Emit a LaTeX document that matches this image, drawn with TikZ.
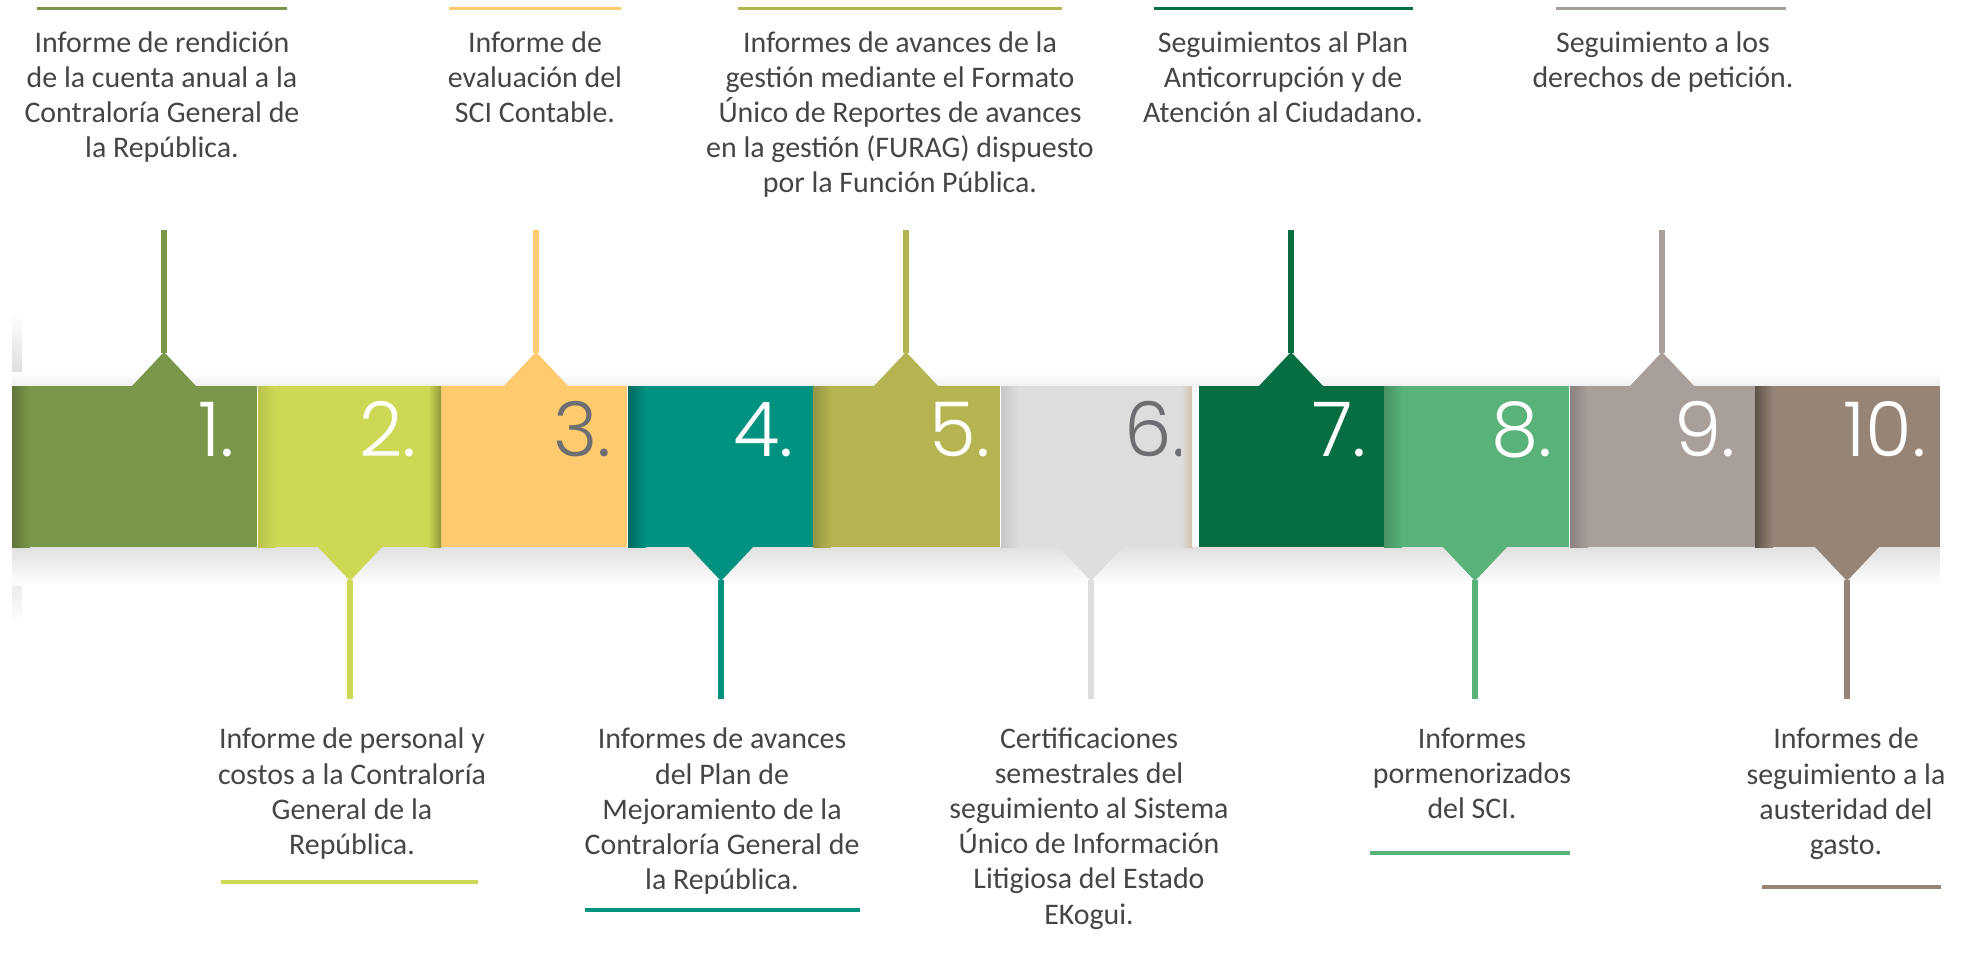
\documentclass[tikz,border=0pt]{standalone}
\usepackage{fontspec}
\setmainfont{Carlito}
\newfontfamily\numfont{Poppins Light}
\usetikzlibrary{calc}
\definecolor{ink}{HTML}{454545}
\definecolor{numgray}{HTML}{6D6E71}
\definecolor{c1}{HTML}{7A964A}
\definecolor{c2}{HTML}{CDD955}
\definecolor{c3}{HTML}{FDCA6E}
\definecolor{c4}{HTML}{009281}
\definecolor{c5}{HTML}{B4B451}
\definecolor{c6}{HTML}{DDDDDD}
\definecolor{c7}{HTML}{066E42}
\definecolor{c8}{HTML}{58B27A}
\definecolor{c9}{HTML}{A89E9A}
\definecolor{c10}{HTML}{968577}
\tikzset{seg/.style={rectangle,draw=none,inner sep=0pt,minimum height=1.61cm},
  num/.style={font=\numfont\fontsize{21.5}{22}\selectfont,inner sep=0pt,anchor=base east},
  txt/.style={font=\fontsize{8.5}{9.96}\selectfont,text=ink,align=center,inner sep=0pt,anchor=north},
  stem/.style={line width=1.7pt},
  rule/.style={line width=1pt}}

\begin{document}
\begin{tikzpicture}[x=0.01cm,y=-0.01cm]
\useasboundingbox (0,0) rectangle (1967,957);
% soft shadow round the band
\shade[top color=white,bottom color=black!16] (12,312) rectangle (22,386);
\shade[top color=black!16,bottom color=white] (12,547) rectangle (22,622);
\shade[top color=white,bottom color=black!6] (12,372) rectangle (1940,386);
\shade[top color=black!12,bottom color=white] (12,547) rectangle (1940,585);
\foreach \i/\xa/\xb/\px/\nx/\nc/\sh in {1/12/257/164/235/white/22,2/258/441/350/417/white/10,
  3/441/627/536/612/numgray/0,4/628/813/721/794/white/28,5/813/1000/906/991/white/18,
  6/1001/1192/1091/1187/numgray/10,7/1199/1384/1291/1367/white/0,8/1384/1569/1475/1553/white/18,
  9/1570/1755/1662/1736/white/18,10/1755/1940/1847/1927/white/38}{
 \pgfmathsetmacro{\w}{(\xb-\xa)*0.01}
 \node[seg,fill=c\i,minimum width=\w cm] (s\i) at ({(\xa+\xb)/2},466.5) {};
 \ifnum\sh>0
  \pgfmathtruncatemacro{\k}{100-\sh}
  \shade[left color=c\i!\k!black,right color=c\i] (\xa,386) rectangle (\xa+18,547);
 \fi
 \pgfmathtruncatemacro{\p}{mod(\i,2)}
 \ifnum\p=1
  \fill[c\i] (\px-32.5,386.5) -- (\px,352) -- (\px+32.5,386.5) -- cycle;
  \coordinate (a\i) at (\px,353);
  \coordinate (e\i) at (\px,230);
 \else
  \fill[c\i] (\px-32.5,546.5) -- (\px,581) -- (\px+32.5,546.5) -- cycle;
  \coordinate (a\i) at (\px,580);
  \coordinate (e\i) at (\px,699);
 \fi
 \draw[stem,draw=c\i] (a\i) -- (e\i);
 \node[num,text=\nc] (n\i) at (\nx,456) {\i.};
}
% shadows on the right edges
\shade[left color=c2,right color=c2!70!black] (428,386) rectangle (441,547);
\shade[left color=c6,right color=c6!70!brown] (1181,386) rectangle (1192,547);
% top texts
\node[txt] (t1) at (162,31) {Informe de rendición\\de la cuenta anual a la\\Contraloría General de\\la República.};
\node[txt] (t3) at (535,31) {Informe de\\evaluación del\\SCI Contable.};
\node[txt] (t5) at (900,31) {Informes de avances de la\\gestión mediante el Formato\\Único de Reportes de avances\\en la gestión (FURAG) dispuesto\\por la Función Pública.};
\node[txt] (t7) at (1283,31) {Seguimientos al Plan\\Anticorrupción y de\\Atención al Ciudadano.};
\node[txt] (t9) at (1663,31) {Seguimiento a los\\derechos de petición.};
% bottom texts
\node[txt] (t2) at (352,727.5) {Informe de personal y\\costos a la Contraloría\\General de la\\República.};
\node[txt] (t4) at (722,727.5) {Informes de avances\\del Plan de\\Mejoramiento de la\\Contraloría General de\\la República.};
\node[txt] (t6) at (1089,727.5) {Certificaciones\\semestrales del\\seguimiento al Sistema\\Único de Información\\Litigiosa del Estado\\EKogui.};
\node[txt] (t8) at (1472,727.5) {Informes\\pormenorizados\\del SCI.};
\node[txt] (t10) at (1846,727.5) {Informes de\\seguimiento a la\\austeridad del\\gasto.};
% rules
\draw[rule,c1] (37,8.5) -- (287,8.5);
\draw[rule,c3] (449,8.5) -- (621,8.5);
\draw[rule,c5] (738,8.5) -- (1062,8.5);
\draw[rule,c7] (1154,8.5) -- (1413,8.5);
\draw[rule,c9] (1556,8.5) -- (1786,8.5);
\draw[rule,c2] (221,882) -- (478,882);
\draw[rule,c4] (585,910) -- (860,910);
\draw[rule,c8] (1370,853) -- (1570,853);
\draw[rule,c10] (1762,887) -- (1941,887);
\end{tikzpicture}
\end{document}
